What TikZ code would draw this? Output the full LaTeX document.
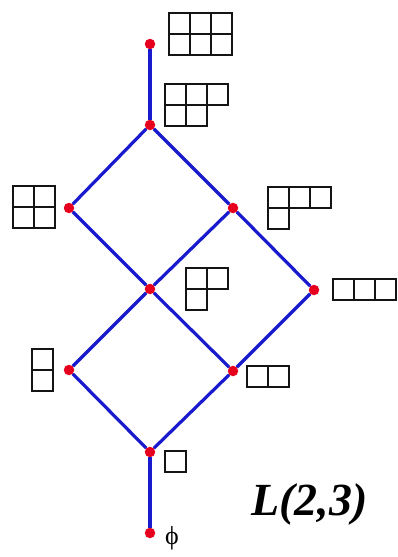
\documentclass[tikz,border=0pt]{standalone}
\usepackage{fontspec}
\setmainfont{Liberation Serif}
\begin{document}
\begin{tikzpicture}[x=1pt,y=-1pt,
  vdot/.style={circle,fill={rgb,255:red,230;green,0;blue,30},inner sep=0pt,minimum size=10.5pt},
  edge/.style={draw={rgb,255:red,25;green,25;blue,205},line width=3.2pt},
  cell/.style={draw={rgb,255:red,20;green,20;blue,20},line width=1.9pt}]
\useasboundingbox (0,0) rectangle (398,557);
\fill[white] (0,0) rectangle (398,557);
% vertices
\node[vdot] (t)  at (150,44) {};
\node[vdot] (a)  at (150,125) {};
\node[vdot] (b1) at (69,208) {};
\node[vdot] (b2) at (233,208) {};
\node[vdot] (c1) at (150,289) {};
\node[vdot] (c2) at (314,290) {};
\node[vdot] (d1) at (69,370) {};
\node[vdot] (d2) at (233,371) {};
\node[vdot] (e)  at (150,452) {};
\node[vdot] (z)  at (150,533) {};
% edges
\foreach \u/\v in {t/a,a/b1,a/b2,b1/c1,b2/c1,b2/c2,c1/d1,c1/d2,c2/d2,d1/e,d2/e,e/z}
  \draw[edge] (\u) -- (\v);
% Young diagrams
\def\cs{21}
\foreach \c/\r in {0/0,1/0,2/0,0/1,1/1,2/1}
  \draw[cell] (169+\cs*\c,13+\cs*\r) rectangle ++(\cs,\cs);
\foreach \c/\r in {0/0,1/0,2/0,0/1,1/1}
  \draw[cell] (165+\cs*\c,84+\cs*\r) rectangle ++(\cs,\cs);
\foreach \c/\r in {0/0,1/0,0/1,1/1}
  \draw[cell] (13+\cs*\c,186+\cs*\r) rectangle ++(\cs,\cs);
\foreach \c/\r in {0/0,1/0,2/0,0/1}
  \draw[cell] (268+\cs*\c,187+\cs*\r) rectangle ++(\cs,\cs);
\foreach \c/\r in {0/0,1/0,0/1}
  \draw[cell] (186+\cs*\c,268+\cs*\r) rectangle ++(\cs,\cs);
\foreach \c/\r in {0/0,1/0,2/0}
  \draw[cell] (333+\cs*\c,279+\cs*\r) rectangle ++(\cs,\cs);
\foreach \c/\r in {0/0,0/1}
  \draw[cell] (32+\cs*\c,349+\cs*\r) rectangle ++(\cs,\cs);
\foreach \c/\r in {0/0,1/0}
  \draw[cell] (247+\cs*\c,366+\cs*\r) rectangle ++(\cs,\cs);
\draw[cell] (165,451) rectangle ++(\cs,\cs);
% labels
\node[inner sep=0pt,font=\fontsize{26}{28}\selectfont] (phi) at (172,538) {ϕ};
\node[anchor=base west,inner sep=0pt,font=\fontsize{46}{50}\selectfont\bfseries\itshape] (lbl) at (251,515) {L(2,3)};
\end{tikzpicture}
\end{document}
